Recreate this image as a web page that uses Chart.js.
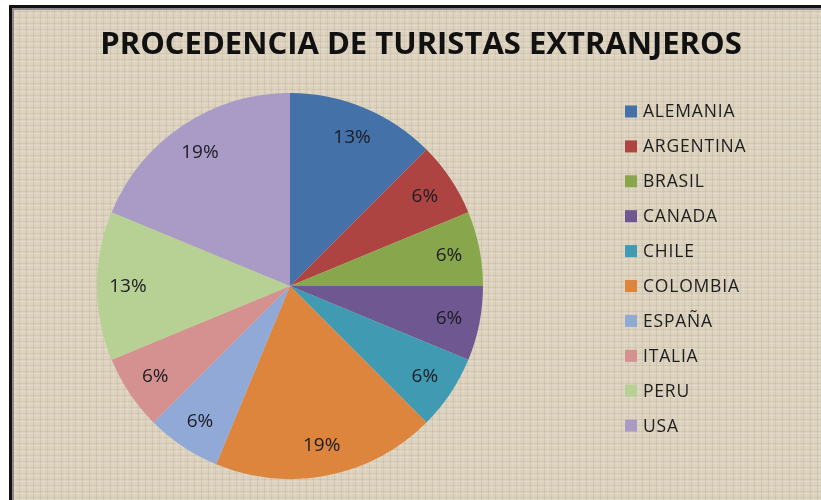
<!DOCTYPE html>
<html>
<head>
<meta charset="utf-8">
<script src="https://cdn.jsdelivr.net/npm/chart.js@4.4.0/dist/chart.umd.min.js"></script>
<style>
  html, body { margin: 0; padding: 0; background: #fff; }
  #marco {
    position: absolute; left: 9px; top: 5px; width: 840px; height: 520px;
    border-left: 3px solid #111; border-top: 3px solid #111;
    box-shadow: inset 2px 2px 0 #8a8a8a;
    background-color: #dcd2be;
    background-image:
      repeating-linear-gradient(90deg, rgba(110,100,80,0.10) 0 1px, transparent 1px 3px, rgba(255,255,255,0.10) 3px 4px, transparent 4px 7px),
      repeating-linear-gradient(0deg, rgba(110,100,80,0.10) 0 1px, transparent 1px 4px, rgba(255,255,255,0.12) 4px 5px, transparent 5px 6px);
  }
  #grafico { position: absolute; left: 0; top: 0; }
</style>
</head>
<body>
<div id="marco"></div>
<canvas id="grafico" width="821" height="500"></canvas>
<script>
// Datos (numero de turistas por pais)
const paises = ['ALEMANIA', 'ARGENTINA', 'BRASIL', 'CANADA', 'CHILE', 'COLOMBIA', 'ESPAÑA', 'ITALIA', 'PERU', 'USA'];
const turistas = [2, 1, 1, 1, 1, 3, 1, 1, 2, 3];
const colores = ['#4371a8', '#ad4441', '#88a74c', '#6f5792', '#3f9ab2', '#dd853d', '#91a9d6', '#d49190', '#b7d093', '#a99bc6'];
const titulo = 'PROCEDENCIA DE TURISTAS EXTRANJEROS';

// titulo, leyenda y porcentajes dibujados a mano
const textos = {
    id: 'textos',
    afterDraw(chart) {
        const ctx = chart.ctx;
        ctx.save();
        ctx.fillStyle = '#111';
        ctx.font = 'bold 31px "Open Sans"';
        ctx.textAlign = 'center';
        ctx.textBaseline = 'alphabetic';
        ctx.fillText(titulo, 421, 54);

        // porcentajes
        const meta = chart.getDatasetMeta(0);
        const total = turistas.reduce((a, b) => a + b, 0);
        ctx.font = '19px "Open Sans"';
        ctx.fillStyle = '#1c1c24';
        ctx.textBaseline = 'middle';
        meta.data.forEach((arc, i) => {
            const p = arc.getProps(['x', 'y', 'startAngle', 'endAngle', 'outerRadius']);
            const ang = (p.startAngle + p.endAngle) / 2;
            const r = p.outerRadius * 0.84;
            const pct = Math.round(turistas[i] / total * 100) + '%';
            ctx.fillText(pct, p.x + Math.cos(ang) * r, p.y + Math.sin(ang) * r + 1);
        });

        // leyenda
        ctx.textAlign = 'left';
        ctx.font = '17.5px "Open Sans"';
        ctx.letterSpacing = '0.8px';
        chart.data.labels.forEach((lab, i) => {
            const y = 111.5 + i * 34.9;
            ctx.fillStyle = colores[i];
            ctx.fillRect(625, y - 6, 12, 12);
            ctx.fillStyle = '#1e1e1e';
            ctx.fillText(lab, 643, y + 1);
        });
        ctx.restore();
    }
};

new Chart(document.getElementById('grafico'), {
    type: 'pie',
    data: {
        labels: paises,
        datasets: [{
            data: turistas,
            backgroundColor: colores,
            borderWidth: 0
        }]
    },
    options: {
        responsive: false,
        animation: false,
        devicePixelRatio: 1,
        layout: { padding: { left: 97, right: 338, top: 93, bottom: 21 } },
        plugins: {
            legend: { display: false },
            tooltip: { enabled: false }
        }
    },
    plugins: [textos]
});
</script>
</body>
</html>
